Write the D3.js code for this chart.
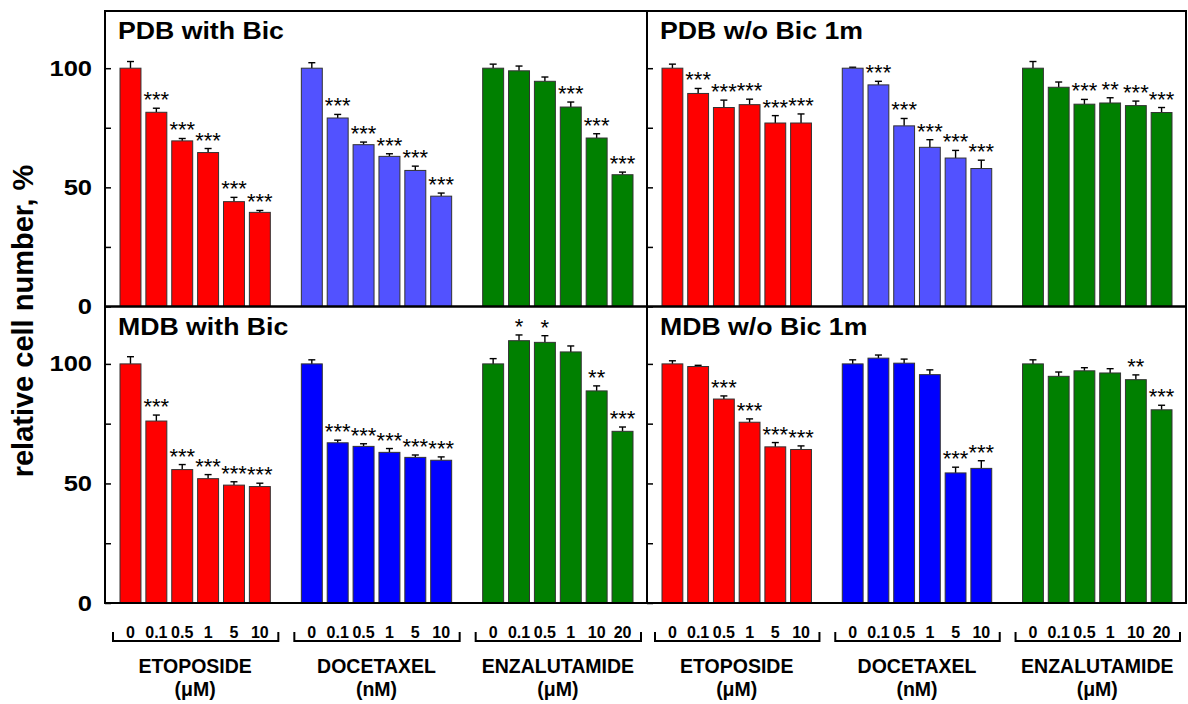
<!DOCTYPE html>
<html>
<head>
<meta charset="utf-8">
<script src="https://cdn.jsdelivr.net/npm/d3@7"></script>
<style>
  html, body { margin: 0; padding: 0; background: #fff; }
  svg { display: block; font-family: "Liberation Sans", Arial, sans-serif; }
</style>
</head>
<body>
<svg id="chart" width="1188" height="704"></svg>
<script>
// ---------------- DATA ----------------
const panelTitles = ["PDB with Bic", "PDB w/o Bic 1m", "MDB with Bic", "MDB w/o Bic 1m"];
const drugs = ["ETOPOSIDE", "DOCETAXEL", "ENZALUTAMIDE"];
const drugUnits = ["(\u03BCM)", "(nM)", "(\u03BCM)"];
const doseLabels = [
  ["0", "0.1", "0.5", "1", "5", "10"],
  ["0", "0.1", "0.5", "1", "5", "10"],
  ["0", "0.1", "0.5", "1", "10", "20"]
];
const yTicks = [0, 25, 50, 75, 100];
const yTickLabels = ["0", "", "50", "", "100"];

// values per panel: [etoposide, docetaxel, enzalutamide]
const pdbWithBic = [
  [100, 81.5, 69.5, 64.6, 44.0, 39.5],
  [100, 79.1, 67.9, 63.0, 57.1, 46.3],
  [100, 98.9, 94.5, 83.7, 70.7, 55.3]
];
const pdbWithBicErr = [
  [2.8, 1.7, 1.0, 1.7, 1.8, 0.8],
  [2.3, 1.5, 1.1, 1.1, 1.8, 1.3],
  [1.7, 2.0, 1.8, 2.1, 1.8, 1.1]
];
const pdbWithBicSig = [
  ["", "***", "***", "***", "***", "***"],
  ["", "***", "***", "***", "***", "***"],
  ["", "", "", "***", "***", "***"]
];

const pdbWoBic = [
  [100, 89.4, 83.5, 84.7, 77.0, 77.0],
  [100, 93.0, 75.8, 66.8, 62.3, 57.9],
  [100, 92.0, 84.9, 85.4, 84.3, 81.4]
];
const pdbWoBicErr = [
  [1.7, 2.1, 3.1, 2.3, 3.1, 3.8],
  [0.4, 1.5, 3.1, 3.2, 3.2, 3.5],
  [2.8, 2.2, 2.0, 2.2, 1.9, 2.1]
];
const pdbWoBicSig = [
  ["", "***", "***", "***", "***", "***"],
  ["", "***", "***", "***", "***", "***"],
  ["", "", "***", "**", "***", "***"]
];

const mdbWithBic = [
  [100, 76.1, 55.8, 52.0, 49.3, 48.7],
  [100, 67.0, 65.5, 63.0, 60.9, 59.7],
  [100, 109.7, 109.0, 105.0, 88.7, 71.8]
];
const mdbWithBicErr = [
  [3.0, 2.5, 2.1, 1.7, 1.4, 1.4],
  [1.7, 1.1, 1.1, 1.6, 1.0, 1.4],
  [2.2, 2.4, 2.8, 2.5, 2.1, 1.8]
];
const mdbWithBicSig = [
  ["", "***", "***", "***", "***", "***"],
  ["", "***", "***", "***", "***", "***"],
  ["", "*", "*", "", "**", "***"]
];

const mdbWoBic = [
  [100, 98.9, 85.3, 75.6, 65.3, 64.2],
  [100, 102.4, 100.3, 95.5, 54.4, 56.3],
  [100, 94.8, 97.1, 96.2, 93.4, 80.8]
];
const mdbWoBicErr = [
  [1.3, 0.5, 1.3, 1.4, 1.8, 1.5],
  [1.7, 1.3, 1.7, 2.0, 2.4, 3.2],
  [1.7, 1.8, 1.3, 1.8, 2.0, 1.9]
];
const mdbWoBicSig = [
  ["", "", "***", "***", "***", "***"],
  ["", "", "", "", "***", "***"],
  ["", "", "", "", "**", "***"]
];

// ---------------- LAYOUT / STYLE ----------------
const colorsTop = ["#ff0000", "#5252ff", "#008000"];
const colorsBottom = ["#ff0000", "#0000ff", "#008000"];

const xLeft = 105, xMid = 647, xRight = 1186;
const yTop = 11, yMid = 306.5, yBottom = 603;

const panels = [
  { title: panelTitles[0], vals: pdbWithBic, err: pdbWithBicErr, sig: pdbWithBicSig, x0: xLeft, x1: xMid, y0: yTop, y1: yMid, colors: colorsTop, left: true, bottom: false },
  { title: panelTitles[1], vals: pdbWoBic, err: pdbWoBicErr, sig: pdbWoBicSig, x0: xMid, x1: xRight, y0: yTop, y1: yMid, colors: colorsTop, left: false, bottom: false },
  { title: panelTitles[2], vals: mdbWithBic, err: mdbWithBicErr, sig: mdbWithBicSig, x0: xLeft, x1: xMid, y0: yMid, y1: yBottom, colors: colorsBottom, left: true, bottom: true },
  { title: panelTitles[3], vals: mdbWoBic, err: mdbWoBicErr, sig: mdbWoBicSig, x0: xMid, x1: xRight, y0: yMid, y1: yBottom, colors: colorsBottom, left: false, bottom: true }
];

const svg = d3.select("#chart");
const STRETCH = 1.16;

panels.forEach(p => {
  const w = p.x1 - p.x0, h = p.y1 - p.y0;
  const g = svg.append("g").attr("transform", `translate(${p.x0},${p.y0})`);

  const y = d3.scaleLinear().domain([0, 124]).range([h, 0]);
  const xg = d3.scaleBand().domain(drugs).range([15, w - 14]).paddingInner(0.171).paddingOuter(0);
  const xd = d3.scaleBand().domain(d3.range(6)).range([0, xg.bandwidth()]).paddingInner(0.19).paddingOuter(0);

  drugs.forEach((drug, gi) => {
    const gg = g.append("g").attr("transform", `translate(${xg(drug)},0)`);
    const rows = p.vals[gi].map((v, i) => ({ i, v, e: p.err[gi][i], s: p.sig[gi][i] }));

    const eb = gg.selectAll("g.err").data(rows).join("g").attr("class", "err");
    eb.append("line")
      .attr("x1", d => xd(d.i) + xd.bandwidth() / 2)
      .attr("x2", d => xd(d.i) + xd.bandwidth() / 2)
      .attr("y1", d => y(d.v))
      .attr("y2", d => y(d.v + d.e))
      .attr("stroke", "#000").attr("stroke-width", 1.4);
    eb.append("line")
      .attr("x1", d => xd(d.i) + xd.bandwidth() / 2 - 3.5)
      .attr("x2", d => xd(d.i) + xd.bandwidth() / 2 + 3.5)
      .attr("y1", d => y(d.v + d.e))
      .attr("y2", d => y(d.v + d.e))
      .attr("stroke", "#000").attr("stroke-width", 1.4);

    gg.selectAll("rect.bar").data(rows).join("rect").attr("class", "bar")
      .attr("x", d => xd(d.i))
      .attr("y", d => y(d.v))
      .attr("width", xd.bandwidth())
      .attr("height", d => y(0) - y(d.v))
      .attr("fill", p.colors[gi])
      .attr("stroke", "#333").attr("stroke-width", 1);

    gg.selectAll("text.sig").data(rows.filter(d => d.s)).join("text").attr("class", "sig")
      .attr("x", d => xd(d.i) + xd.bandwidth() / 2)
      .attr("y", d => y(d.v + d.e) - 1)
      .attr("text-anchor", "middle")
      .attr("font-size", 22)
      .attr("fill", "#000")
      .text(d => d.s);

    if (p.bottom) {
      const ax = gg.append("g").attr("transform", `translate(0,${h})`)
        .call(d3.axisBottom(xd).tickSize(0).tickPadding(24).tickFormat(i => doseLabels[gi][i]));
      ax.select(".domain").remove();
      ax.selectAll("text").attr("font-size", 16).attr("font-weight", "bold")
        .attr("font-family", '"Liberation Sans", Arial, sans-serif').attr("fill", "#000");
      const bx0 = -7, bx1 = xg.bandwidth() + 8;
      gg.append("path")
        .attr("d", `M${bx0},${h + 29}V${h + 38}H${bx1}V${h + 29}`)
        .attr("fill", "none").attr("stroke", "#000").attr("stroke-width", 2);
      gg.append("text")
        .attr("x", xg.bandwidth() / 2).attr("y", h + 70)
        .attr("text-anchor", "middle").attr("font-size", 19.5).attr("font-weight", "bold")
        .text(drug);
      gg.append("text")
        .attr("x", xg.bandwidth() / 2).attr("y", h + 93)
        .attr("text-anchor", "middle").attr("font-size", 19.5).attr("font-weight", "bold")
        .text(drugUnits[gi]);
    }
  });

  const ya = g.append("g")
    .call(d3.axisLeft(y).tickValues(yTicks).tickSizeInner(-6).tickSizeOuter(0)
      .tickPadding(13).tickFormat((d, i) => p.left ? yTickLabels[i] : ""));
  ya.select(".domain").remove();
  ya.selectAll("line").attr("stroke", "#000").attr("stroke-width", 1.5);
  ya.selectAll("text")
    .attr("font-size", 22).attr("font-weight", "bold").attr("fill", "#000")
    .attr("font-family", '"Liberation Sans", Arial, sans-serif')
    .attr("transform", `scale(${STRETCH},1)`)
    .attr("x", -13 / STRETCH);

  g.append("rect").attr("x", 0).attr("y", 0).attr("width", w).attr("height", h)
    .attr("fill", "none").attr("stroke", "#000").attr("stroke-width", 2);

  g.append("text")
    .attr("transform", `translate(13,28) scale(${STRETCH},1)`)
    .attr("font-size", 23).attr("font-weight", "bold")
    .text(p.title);
});

svg.append("text")
  .attr("transform", "translate(33,321) rotate(-90)")
  .attr("text-anchor", "middle")
  .attr("font-size", 29).attr("font-weight", "bold")
  .text("relative cell number, %");
</script>
</body>
</html>
